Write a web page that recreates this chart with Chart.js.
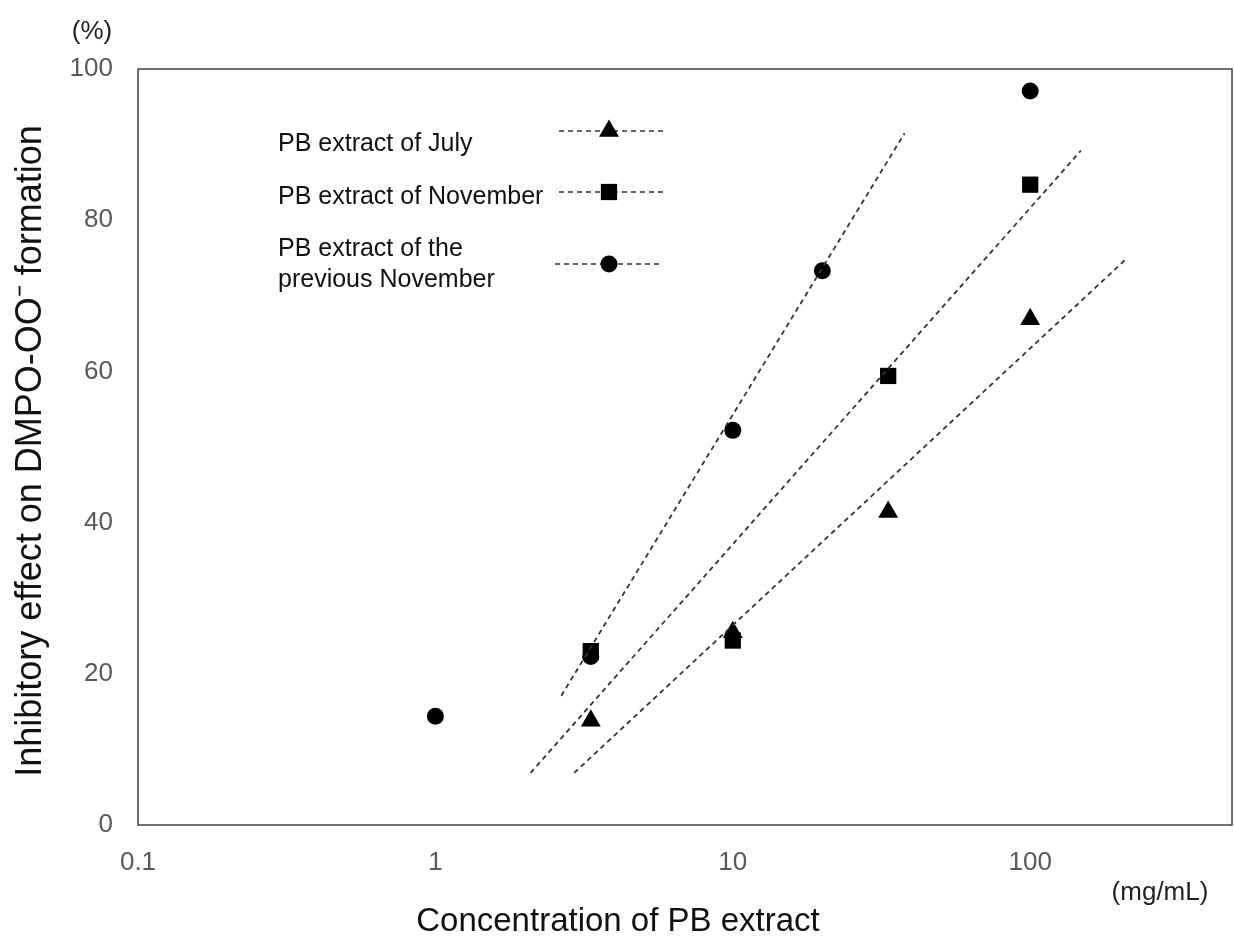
<!DOCTYPE html>
<html>
<head>
<meta charset="utf-8">
<script src="https://cdn.jsdelivr.net/npm/chart.js@4/dist/chart.umd.min.js"></script>
<style>
  html, body { margin: 0; padding: 0; background: #fff; overflow: hidden; }
  #wrap { width: 1234px; height: 941px; }
  canvas { display: block; }
</style>
</head>
<body>
<div id="wrap"><canvas id="chart" width="1234" height="941"></canvas></div>
<script>
// -----------------------------
// DATA
// -----------------------------
const xTicks = [0.1, 1, 10, 100];
const yTicks = [0, 20, 40, 60, 80, 100];

const julyX = [3.33, 10, 33.3, 100];
const julyY = [13.8, 25.5, 41.4, 66.9];

const novX = [3.33, 10, 33.3, 100];
const novY = [23.0, 24.4, 59.4, 84.7];

const prevNovX = [1, 3.33, 10, 20, 100];
const prevNovY = [14.4, 22.3, 52.2, 73.3, 97.1];

// fitted trend lines (start / end points)
const julyFitX = [2.93, 208];
const julyFitY = [6.9, 74.7];
const novFitX = [2.09, 148];
const novFitY = [6.9, 89.2];
const prevNovFitX = [2.65, 37.8];
const prevNovFitY = [17.1, 91.5];

const legendLabels = [
    ["PB extract of July"],
    ["PB extract of November"],
    ["PB extract of the", "previous November"]
];

const toPoints = (xs, ys) => xs.map((x, i) => ({ x: x, y: ys[i] }));

// -----------------------------
// STYLE
// -----------------------------
const FONT = '"Liberation Sans", Arial, sans-serif';
const tickColor = '#595959';
const axisColor = '#404040';

function scatter(label, xs, ys, style, radius) {
    return {
        type: 'scatter',
        label: label,
        data: toPoints(xs, ys),
        pointStyle: style,
        pointRadius: radius,
        pointHoverRadius: radius,
        backgroundColor: '#000',
        borderColor: '#000',
        borderWidth: 0
    };
}

function fitLine(xs, ys) {
    return {
        type: 'line',
        data: toPoints(xs, ys),
        borderColor: '#333',
        borderWidth: 1.8,
        borderDash: [5, 4],
        pointRadius: 0,
        fill: false
    };
}

// -----------------------------
// PLUGIN: frame, legend, extra labels
// -----------------------------
const decorPlugin = {
    id: 'decor',
    afterDraw(chart) {
        const ctx = chart.ctx;
        const a = chart.chartArea;
        ctx.save();

        // box round plot area
        ctx.strokeStyle = axisColor;
        ctx.lineWidth = 1.5;
        ctx.strokeRect(a.left, a.top, a.right - a.left, a.bottom - a.top);

        // legend
        const rows = [
            { y: a.top + 62, ty: a.top + 75, style: 'triangle', r: 11.5, x0: 559, x1: 667 },
            { y: a.top + 123, ty: a.top + 128, style: 'rect', r: 11.5, x0: 559, x1: 663 },
            { y: a.top + 195, ty: a.top + 180, style: 'circle', r: 8.5, x0: 555, x1: 663 }
        ];
        ctx.font = '25px ' + FONT;
        ctx.fillStyle = '#111';
        ctx.textAlign = 'left';
        ctx.textBaseline = 'middle';
        rows.forEach((row, i) => {
            legendLabels[i].forEach((line, j) => {
                ctx.fillText(line, 278, row.ty + j * 31);
            });
            ctx.save();
            ctx.strokeStyle = '#333';
            ctx.lineWidth = 1.6;
            ctx.setLineDash([5, 4]);
            ctx.beginPath();
            ctx.moveTo(row.x0, row.y);
            ctx.lineTo(row.x1, row.y);
            ctx.stroke();
            ctx.restore();
            ctx.fillStyle = '#000';
            Chart.helpers.drawPoint(ctx, {
                pointStyle: row.style, radius: row.r, borderWidth: 0, rotation: 0
            }, 609, row.y);
            ctx.fillStyle = '#111';
        });

        // axis titles and units
        ctx.fillStyle = '#111';
        ctx.font = '33px ' + FONT;
        ctx.textAlign = 'center';
        ctx.fillText('Concentration of PB extract', 618, 922);

        ctx.save();
        ctx.translate(31, (a.top + a.bottom) / 2 + 4);
        ctx.rotate(-Math.PI / 2);
        ctx.font = '36px ' + FONT;
        ctx.fillText('Inhibitory effect on DMPO-OO\u207B formation', 0, 0);
        ctx.restore();

        ctx.font = '26px ' + FONT;
        ctx.fillStyle = '#222';
        ctx.fillText('(%)', 92, 32);
        ctx.fillText('(mg/mL)', 1160, 893);

        ctx.restore();
    }
};

// -----------------------------
// CHART
// -----------------------------
new Chart(document.getElementById('chart'), {
    data: {
        datasets: [
            fitLine(julyFitX, julyFitY),
            fitLine(novFitX, novFitY),
            fitLine(prevNovFitX, prevNovFitY),
            scatter('PB extract of July', julyX, julyY, 'triangle', 11.5),
            scatter('PB extract of November', novX, novY, 'rect', 11.5),
            scatter('PB extract of the previous November', prevNovX, prevNovY, 'circle', 8.5)
        ]
    },
    options: {
        responsive: false,
        animation: false,
        layout: {
            autoPadding: false,
            padding: { top: 69, right: 2, left: 0, bottom: 0 }
        },
        plugins: {
            legend: { display: false },
            tooltip: { enabled: false }
        },
        scales: {
            x: {
                type: 'logarithmic',
                min: 0.1,
                max: 477,
                afterBuildTicks: axis => { axis.ticks = xTicks.map(v => ({ value: v })); },
                afterFit: axis => {
                    axis.height = 116;
                    axis.paddingLeft = 0;
                    axis.paddingRight = 0;
                },
                grid: { display: false, drawTicks: false },
                border: { display: false },
                ticks: {
                    autoSkip: false,
                    maxRotation: 0,
                    padding: 22,
                    color: tickColor,
                    font: { family: FONT, size: 26 },
                    callback: v => String(v)
                }
            },
            y: {
                type: 'linear',
                min: 0,
                max: 100,
                afterBuildTicks: axis => { axis.ticks = yTicks.map(v => ({ value: v })); },
                afterFit: axis => {
                    axis.width = 138;
                    axis.paddingTop = 0;
                    axis.paddingBottom = 0;
                },
                grid: { display: false, drawTicks: false },
                border: { display: false },
                ticks: {
                    padding: 25,
                    color: tickColor,
                    font: { family: FONT, size: 26 }
                }
            }
        }
    },
    plugins: [decorPlugin]
});
</script>
</body>
</html>
